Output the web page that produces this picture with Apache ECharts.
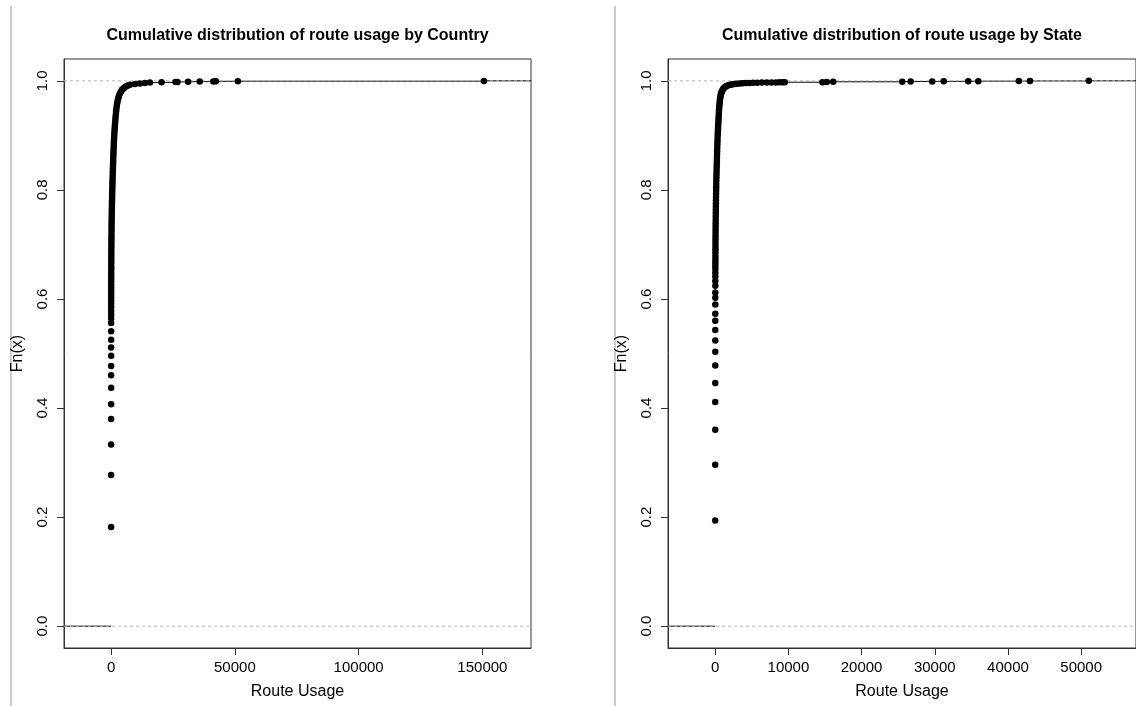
<!DOCTYPE html>
<html><head><meta charset="utf-8">
<script src="https://cdn.jsdelivr.net/npm/echarts@6/dist/echarts.min.js"></script>
<style>html,body{margin:0;padding:0;background:#fff}#c{width:1136px;height:706px}</style>
</head><body><div id="c"></div>
<script>
// ---- data ----
const countryUsage = [1,2,3,4,5,6,7,8,9,10,11,12,13,14,
 15,16,17,18,20,22,24,27,30,33,36,40,44,48,53,58,63,69,75,82,89,97,105,114,124,134,145,157,170,184,199,215,232,250,269,289,310,332,355,380,406,433,461,490,520,551,583,616,650,685,721,758,796,835,875,916,958,1001,1045,1090,1140,1195,1255,1320,1390,1465,1545,1630,1720,1815,1915,2020,2140,2280,2440,2620,2830,3080,3370,3700,4080,4500,4980,5520,6120,6800,7600,
 9650,11670,13680,15690,20390,26000,26800,31100,35800,41300,42300,51200,150600];
const countryFn = [0.182,0.277,0.333,0.380,0.407,0.437,0.460,0.477,0.496,0.511,0.525,0.541,0.556,0.564,
 0.571,0.578,0.585,0.591,0.597,0.603,0.609,0.615,0.620,0.626,0.632,0.637,0.643,0.648,0.654,0.659,0.665,0.670,0.676,0.681,0.687,0.692,0.697,0.703,0.708,0.713,0.718,0.724,0.729,0.734,0.739,0.744,0.749,0.754,0.759,0.764,0.769,0.774,0.779,0.784,0.789,0.794,0.799,0.804,0.809,0.814,0.819,0.824,0.829,0.834,0.839,0.844,0.849,0.854,0.859,0.864,0.869,0.874,0.879,0.884,0.889,0.894,0.899,0.904,0.909,0.914,0.919,0.924,0.929,0.934,0.939,0.944,0.949,0.954,0.959,0.963,0.967,0.971,0.975,0.978,0.981,0.984,0.986,0.988,0.990,0.9915,0.993,0.994,0.995,
 0.9962,0.9968,0.9972,0.9976,0.998,0.9984,0.9986,0.9989,0.9991,0.9993,0.9995,0.9997,1.0];

const stateUsage = [1,2,3,4,5,6,7,8,9,10,11,12,13,14,15,16,
 17,18,19,21,23,25,27,29,32,35,38,41,45,49,53,57,62,67,72,78,84,90,97,104,111,119,127,136,145,155,165,176,187,199,211,224,237,251,265,280,295,311,327,344,361,379,397,416,435,455,476,498,521,545,570,597,626,658,694,735,780,830,890,960,1040,1130,1240,1370,1520,1700,1900,2120,2370,2650,2970,3330,3730,4170,4650,5170,5750,6380,7050,7700,8300,8800,9200,9500,
 14650,15240,16120,25560,26700,29650,31220,34570,35940,41490,43010,51040];
const stateFn = [0.194,0.296,0.360,0.411,0.446,0.478,0.503,0.524,0.543,0.560,0.573,0.590,0.602,0.612,0.624,0.633,
 0.641,0.648,0.655,0.661,0.667,0.673,0.679,0.685,0.691,0.697,0.703,0.709,0.715,0.721,0.727,0.733,0.739,0.745,0.751,0.757,0.763,0.769,0.775,0.781,0.787,0.793,0.799,0.805,0.811,0.817,0.823,0.829,0.835,0.841,0.847,0.853,0.859,0.865,0.871,0.877,0.883,0.889,0.895,0.901,0.906,0.911,0.916,0.921,0.926,0.931,0.936,0.941,0.946,0.951,0.955,0.959,0.963,0.967,0.970,0.973,0.976,0.978,0.980,0.982,0.984,0.986,0.9875,0.989,0.9902,0.9913,0.9922,0.993,0.9937,0.9943,0.9948,0.9952,0.9956,0.9959,0.9962,0.9964,0.9966,0.9968,0.9969,0.997,0.9971,0.9972,0.9973,0.9974,
 0.9975,0.998,0.9982,0.9985,0.9987,0.9989,0.999,0.9992,0.9994,0.9996,0.9998,1.0];

const countryXTicks = [0, 50000, 100000, 150000];
const stateXTicks = [0, 10000, 20000, 30000, 40000, 50000];
const yTicks = [0, 0.2, 0.4, 0.6, 0.8, 1.0];
const titles = ['Cumulative distribution of route usage by Country', 'Cumulative distribution of route usage by State'];
const xLabel = 'Route Usage';
const yLabel = 'Fn(x)';

// ---- helpers ----
const FONT = '"Liberation Sans", Arial, sans-serif';
function xlimOf(xs) {
  const lo = Math.min(...xs), hi = Math.max(...xs);
  const dr = 0.08 * (hi - lo);
  const a = lo - dr, b = hi + dr, e = 0.04 * (b - a);
  return [a - e, b + e];
}
function stepSegments(xs, ys, lim) {
  const segs = [[lim[0], xs[0], 0]];
  for (let i = 0; i < xs.length - 1; i++) segs.push([xs[i], xs[i + 1], ys[i]]);
  segs.push([xs[xs.length - 1], lim[1], 1]);
  return segs;
}
function segRender(color, dash) {
  return function (params, api) {
    const p1 = api.coord([api.value(0), api.value(2)]);
    const p2 = api.coord([api.value(1), api.value(2)]);
    return { type: 'line', shape: { x1: p1[0], y1: p1[1], x2: p2[0], y2: p2[1] },
      style: { stroke: color, lineWidth: 1, lineDash: dash || null } };
  };
}

const grids = [
  { left: 64, top: 59, width: 467, height: 589 },
  { left: 668, top: 59, width: 470, height: 589 }
];
const sets = [
  { xs: countryUsage, ys: countryFn, ticks: countryXTicks },
  { xs: stateUsage, ys: stateFn, ticks: stateXTicks }
];

const xAxes = [], yAxes = [], series = [], titleOpts = [];
sets.forEach((s, i) => {
  const lim = xlimOf(s.xs);
  xAxes.push({
    gridIndex: i, type: 'value', min: lim[0], max: lim[1],
    axisLine: { show: true, onZero: false, lineStyle: { color: '#333', width: 1 } },
    splitLine: { show: false },
    axisTick: { show: true, inside: false, length: 7, customValues: s.ticks, lineStyle: { color: '#333' } },
    axisLabel: { customValues: s.ticks, color: '#000', fontSize: 15, fontFamily: FONT, margin: 12,
      formatter: v => String(Math.round(v)) },
    name: xLabel, nameLocation: 'middle', nameGap: 44,
    nameTextStyle: { color: '#000', fontSize: 16, fontFamily: FONT, verticalAlign: 'middle' }
  });
  yAxes.push({
    gridIndex: i, type: 'value', min: -0.04, max: 1.04,
    axisLine: { show: true, onZero: false, lineStyle: { color: '#333', width: 1 } },
    splitLine: { show: false },
    axisTick: { show: true, inside: false, length: 7, customValues: yTicks, lineStyle: { color: '#333' } },
    axisLabel: { customValues: yTicks, color: '#000', fontSize: 15, fontFamily: FONT, margin: 14, rotate: 90,
      formatter: v => v.toFixed(1) },
    name: yLabel, nameLocation: 'middle', nameGap: 46, nameRotate: 90,
    nameTextStyle: { color: '#000', fontSize: 16, fontFamily: FONT, verticalAlign: 'middle' }
  });
  series.push({
    type: 'custom', xAxisIndex: i, yAxisIndex: i, z: 2, silent: true,
    renderItem: segRender('#000'), encode: { x: [0, 1], y: 2 },
    data: stepSegments(s.xs, s.ys, lim)
  });
  series.push({
    type: 'custom', xAxisIndex: i, yAxisIndex: i, z: 3, silent: true,
    renderItem: segRender('#b3b3b3', [3, 3]), encode: { x: [0, 1], y: 2 },
    data: [[lim[0], lim[1], 0], [lim[0], lim[1], 1]]
  });
  series.push({
    type: 'scatter', xAxisIndex: i, yAxisIndex: i, z: 4, silent: true,
    symbol: 'circle', symbolSize: 6.5, itemStyle: { color: '#000', opacity: 1 },
    data: s.xs.map((x, k) => [x, s.ys[k]])
  });
  const g = grids[i];
  titleOpts.push({
    text: titles[i], left: g.left + g.width / 2 - (i === 1 ? 1 : 0), top: 28, textAlign: 'center', padding: 0,
    textStyle: { color: '#000', fontSize: 16, fontWeight: 'bold', fontFamily: FONT }
  });
});

const chart = echarts.init(document.getElementById('c'), null, { renderer: 'canvas' });
chart.setOption({
  backgroundColor: '#fff',
  animation: false,
  title: titleOpts,
  grid: grids.map(g => Object.assign({ show: true, borderColor: '#333', borderWidth: 1, backgroundColor: 'transparent', containLabel: false }, g)),
  xAxis: xAxes,
  yAxis: yAxes,
  series: series,
  graphic: [
    { type: 'line', shape: { x1: 11, y1: 6, x2: 11, y2: 706 }, style: { stroke: '#cccccc', lineWidth: 2 } },
    { type: 'line', shape: { x1: 615, y1: 6, x2: 615, y2: 706 }, style: { stroke: '#cccccc', lineWidth: 2 } }
  ]
});
</script></body></html>
